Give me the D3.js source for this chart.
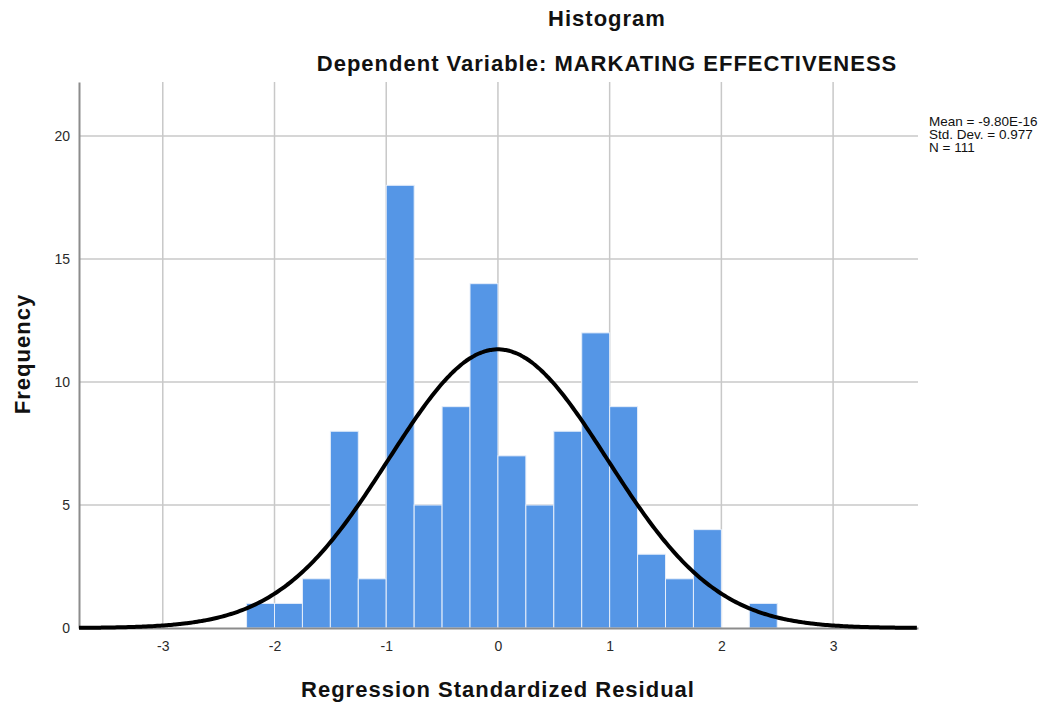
<!DOCTYPE html>
<html>
<head>
<meta charset="utf-8">
<script src="https://cdn.jsdelivr.net/npm/d3@7"></script>
<style>
  html, body { margin: 0; padding: 0; background: #fff; }
  svg { display: block; font-family: "Liberation Sans", Arial, sans-serif; }
</style>
</head>
<body>
<svg id="chart" width="1057" height="706"></svg>
<script>
// ---- data ----
const binStarts = [-2.25, -2.0, -1.75, -1.5, -1.25, -1.0, -0.75, -0.5, -0.25, 0.0, 0.25, 0.5, 0.75, 1.0, 1.25, 1.5, 1.75, 2.0, 2.25];
const frequencies = [1, 1, 2, 8, 2, 18, 5, 9, 14, 7, 5, 8, 12, 9, 3, 2, 4, 0, 1];
const binWidth = 0.25;
const xTicks = [-3, -2, -1, 0, 1, 2, 3];
const yTicks = [0, 5, 10, 15, 20];
const statsMean = -9.80e-16;
const statsSd = 0.977;
const statsN = 111;
const statsLines = ["Mean = -9.80E-16", "Std. Dev. = 0.977", "N = 111"];
const titleText = "Histogram";
const subtitleText = "Dependent Variable: MARKATING EFFECTIVENESS";
const xLabel = "Regression Standardized Residual";
const yLabel = "Frequency";

(function () {
// ---- layout ----
const svg = d3.select("#chart");
const pLeft = 79, pRight = 918, pTop = 82, pBottom = 628;

const x = d3.scaleLinear().domain([-3.75, 3.76]).range([pLeft, pRight]);
const y = d3.scaleLinear().domain([0, 22.2]).range([pBottom, pTop]);

// gridlines
const grid = svg.append("g");
grid.selectAll("line.v").data(xTicks).enter().append("line")
  .attr("x1", d => x(d)).attr("x2", d => x(d))
  .attr("y1", pTop).attr("y2", pBottom)
  .attr("stroke", "#c8c8c8").attr("stroke-width", 1.5);
grid.selectAll("line.h").data(yTicks.filter(d => d > 0)).enter().append("line")
  .attr("x1", pLeft).attr("x2", pRight)
  .attr("y1", d => y(d)).attr("y2", d => y(d))
  .attr("stroke", "#c8c8c8").attr("stroke-width", 1.5);

// bars
const bins = binStarts.map((s, i) => ({ x0: s, x1: s + binWidth, v: frequencies[i] }));
svg.append("g").selectAll("rect").data(bins.filter(b => b.v > 0)).enter().append("rect")
  .attr("x", d => x(d.x0))
  .attr("width", d => x(d.x1) - x(d.x0))
  .attr("y", d => y(d.v))
  .attr("height", d => y(0) - y(d.v))
  .attr("fill", "#5596e6")
  .attr("stroke", "#e6eefa")
  .attr("stroke-width", 1);

// axes
const fmt = d => String(d);
const xAxis = d3.axisBottom(x).tickValues(xTicks).tickSize(0).tickPadding(13).tickFormat(fmt);
const yAxis = d3.axisLeft(y).tickValues(yTicks).tickSize(0).tickPadding(9).tickFormat(fmt);

const gx = svg.append("g").attr("transform", `translate(0,${pBottom})`).call(xAxis);
gx.select(".domain").attr("stroke", "#8c8c8c").attr("stroke-width", 2);
gx.selectAll("text").attr("font-size", 14).attr("fill", "#2a2a2a")
  .attr("font-family", "Liberation Sans, Arial, sans-serif");

const gy = svg.append("g").attr("transform", `translate(${pLeft},0)`).call(yAxis);
gy.select(".domain").attr("stroke", "#8c8c8c").attr("stroke-width", 2);
gy.selectAll("text").attr("font-size", 14).attr("fill", "#2a2a2a")
  .attr("font-family", "Liberation Sans, Arial, sans-serif");

// normal curve from the stated mean / sd / N
const curveXs = d3.range(x.domain()[0], x.domain()[1] + 0.001, 0.02);
const dens = v => statsN * binWidth / (statsSd * Math.sqrt(2 * Math.PI)) *
  Math.exp(-0.5 * Math.pow((v - statsMean) / statsSd, 2));
svg.append("path")
  .datum(curveXs)
  .attr("d", d3.line().x(d => x(d)).y(d => y(dens(d))).curve(d3.curveBasis))
  .attr("fill", "none")
  .attr("stroke", "#000")
  .attr("stroke-width", 4);

// titles
const boldText = (tx, ty, str, rot) => {
  const t = svg.append("text").attr("text-anchor", "middle")
    .attr("font-size", 22).attr("font-weight", "bold").attr("fill", "#111")
    .attr("letter-spacing", 1.0).text(str);
  t.attr("transform", rot ? `translate(${tx},${ty}) rotate(-90)` : `translate(${tx},${ty})`);
  return t;
};
boldText(607, 26, titleText);
boldText(607, 71, subtitleText);
boldText(498, 697, xLabel);
boldText(30, 354, yLabel, true);

// stats legend
svg.append("g").selectAll("text").data(statsLines).enter().append("text")
  .attr("x", 929).attr("y", (d, i) => 126 + i * 13)
  .attr("font-size", 13.5).attr("fill", "#111").text(d => d);
})();
</script>
</body>
</html>
